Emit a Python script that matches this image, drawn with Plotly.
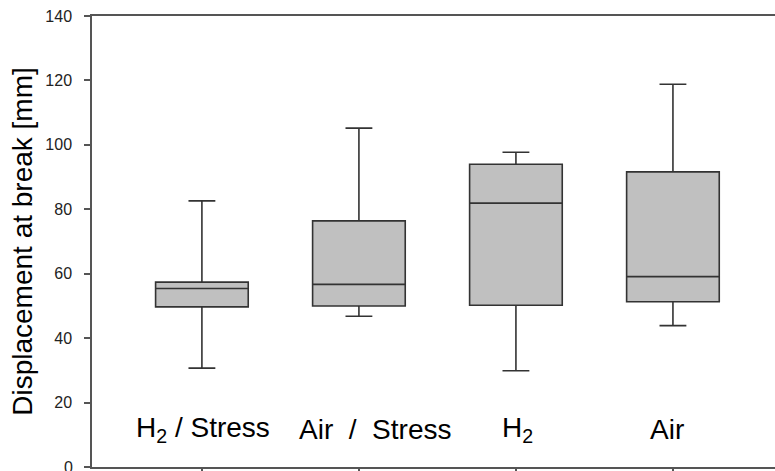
import plotly.graph_objects as go

# groups and box statistics (mm)
groups = ["H<sub>2</sub> / Stress", "Air\u00a0 /\u00a0 Stress", "H<sub>2</sub>", "Air"]
positions = [1, 2, 3, 4]
lower = [30.7, 46.8, 29.9, 43.9]
q1 = [49.7, 50.0, 50.2, 51.3]
median = [55.4, 56.7, 81.9, 59.1]
q3 = [57.4, 76.4, 94.0, 91.6]
upper = [82.6, 105.2, 97.7, 118.8]
label_shift = [1, 16, 2, -6]

fig = go.Figure()
fig.add_trace(go.Box(
    x=positions, q1=q1, median=median, q3=q3,
    lowerfence=lower, upperfence=upper,
    width=0.59, whiskerwidth=0.29,
    fillcolor="#c0c0c0", line=dict(color="#333333", width=1.6),
    boxpoints=False, hoverinfo="skip", showlegend=False))

for g, p, s in zip(groups, positions, label_shift):
    fig.add_annotation(x=p, y=12, text=g, showarrow=False, xshift=s, yshift=-1,
                       font=dict(family="Arial, Liberation Sans", size=28, color="black"))

# plotly drops the "0" label in the corner, so put it back by hand
fig.add_annotation(x=0, xref="paper", y=0, text="0", showarrow=False,
                   xanchor="right", xshift=-17,
                   font=dict(family="Arial, Liberation Sans", size=16, color="#222222"))

fig.update_layout(
    width=775, height=471, plot_bgcolor="white", paper_bgcolor="white",
    margin=dict(l=92, r=0, t=16, b=4),
    font=dict(family="Arial, Liberation Sans", color="#222222"),
)
fig.update_xaxes(range=[0.3, 4.65], tickvals=positions, showticklabels=False,
                 ticks="outside", ticklen=6, tickcolor="#555555", tickwidth=1.5,
                 showline=True, linecolor="#555555", linewidth=1.5, mirror=True,
                 showgrid=False, zeroline=False, automargin=False)
fig.update_yaxes(range=[0, 140], dtick=20, ticks="outside", ticklen=6,
                 tickcolor="#555555", tickwidth=1.5, ticklabelstandoff=9,
                 tickfont=dict(size=16, color="#222222"),
                 showline=True, linecolor="#555555", linewidth=1.5,
                 showgrid=False, zeroline=False, automargin=False,
                 title=dict(text="Displacement at break [mm]", standoff=5,
                            font=dict(size=28, color="black")))

# drop the default page margin so the figure sits flush in the window
fig.write_html("out.html", config={"displayModeBar": False},
               post_script="document.body.style.margin='0';")
